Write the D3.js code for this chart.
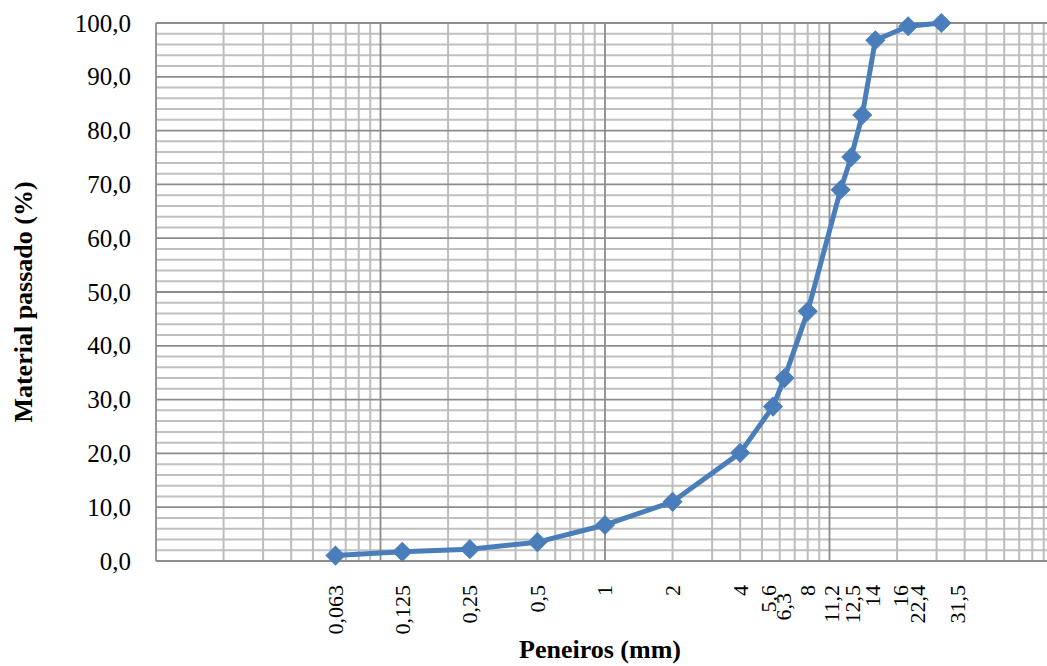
<!DOCTYPE html>
<html>
<head>
<meta charset="utf-8">
<script src="https://cdn.jsdelivr.net/npm/d3@7"></script>
<style>
	html, body { margin: 0; padding: 0; background: #fff; overflow: hidden; }
	text { font-family: "Liberation Serif", "Times New Roman", serif; fill: #000; }
</style>
</head>
<body>
<div id="chart"></div>
<script>
'use strict';

// sieve sizes (mm) and percent passing
var sieves  = [0.063, 0.125, 0.25, 0.5, 1, 2, 4, 5.6, 6.3, 8, 11.2, 12.5, 14, 16, 22.4, 31.5];
var passing = [1.0, 1.7, 2.2, 3.5, 6.7, 11.0, 20.1, 28.7, 34.0, 46.4, 69.0, 75.1, 82.9, 96.8, 99.4, 100.0];

// tick labels on the x axis
var sieveLabels = ['0,063', '0,125', '0,25', '0,5', '1', '2', '4', '5,6', '6,3', '8',
	'11,2', '12,5', '14', '16', '22,4', '31,5'];
// y axis ticks
var yTicks = [0, 10, 20, 30, 40, 50, 60, 70, 80, 90, 100];

// nudges for crowded labels (px)
var labelDx = [0, 0, 0, 0, 0, 0, 0, -4, -1, 0, -9, 1, 10, 25, 9, 16];
var labelDy = [0, 0, 0, 0, 0, 0, 0, 0, 8, 0, 0, 0, 0, 0, 0, 0];

var W = 1047, H = 666;
var plotL = 156, plotR = 1054, plotT = 23, plotB = 561;

var svg = d3.select('#chart').append('svg')
	.attr('width', W)
	.attr('height', H);

var x = d3.scaleLog().domain([0.01, 100]).range([plotL, plotR]);
var y = d3.scaleLinear().domain([0, 100]).range([plotB, plotT]);

// grid
var grid = svg.append('g');

var minorY = d3.range(0, 101, 2).filter(function(v){ return v % 10 !== 0; });
grid.selectAll('line.hy').data(minorY).enter().append('line')
	.attr('x1', plotL).attr('x2', plotR)
	.attr('y1', function(d){ return y(d); }).attr('y2', function(d){ return y(d); })
	.attr('stroke', '#c0c0c0').attr('stroke-width', 2);

var vLines = [];
[0.01, 0.1, 1, 10].forEach(function(dec){
	for (var k = 2; k <= 9; k++) vLines.push(k * dec);
});
grid.selectAll('line.vx').data(vLines).enter().append('line')
	.attr('x1', function(d){ return x(d); }).attr('x2', function(d){ return x(d); })
	.attr('y1', plotT).attr('y2', plotB)
	.attr('stroke', '#bdbdbd').attr('stroke-width', 2);

grid.selectAll('line.my').data(yTicks).enter().append('line')
	.attr('x1', plotL).attr('x2', plotR)
	.attr('y1', function(d){ return y(d); }).attr('y2', function(d){ return y(d); })
	.attr('stroke', '#8c8c8c').attr('stroke-width', 1.8);

grid.selectAll('line.mx').data([0.01, 0.1, 1, 10, 100]).enter().append('line')
	.attr('x1', function(d){ return x(d); }).attr('x2', function(d){ return x(d); })
	.attr('y1', plotT).attr('y2', plotB)
	.attr('stroke', '#8c8c8c').attr('stroke-width', 1.8);

// y tick labels
svg.selectAll('text.yt').data(yTicks).enter().append('text')
	.attr('x', 131)
	.attr('y', function(d){ return y(d); })
	.attr('dy', '0.34em')
	.attr('text-anchor', 'end')
	.style('font-size', '25px')
	.text(function(d){ return d3.format('.1f')(d).replace('.', ','); });

// x tick labels
svg.selectAll('text.xt').data(sieves).enter().append('text')
	.attr('transform', function(d, i){
		return 'translate(' + (x(d) + labelDx[i]) + ',' + (585 + labelDy[i]) + ') rotate(-90)';
	})
	.attr('dy', '0.34em')
	.attr('text-anchor', 'end')
	.style('font-size', '22px')
	.text(function(d, i){ return sieveLabels[i]; });

// axis titles
svg.append('text')
	.attr('x', 600).attr('y', 658)
	.attr('text-anchor', 'middle')
	.style('font-size', '26px').style('font-weight', 'bold')
	.text('Peneiros (mm)');

svg.append('text')
	.attr('transform', 'translate(32,302) rotate(-90)')
	.attr('text-anchor', 'middle')
	.style('font-size', '26px').style('font-weight', 'bold')
	.text('Material passado (%)');

// data
var pts = sieves.map(function(s, i){ return [s, passing[i]]; });

svg.append('path')
	.datum(pts)
	.attr('fill', 'none')
	.attr('stroke', '#4a7ebb')
	.attr('stroke-width', 5)
	.attr('stroke-linejoin', 'round')
	.attr('d', d3.line()
		.x(function(d){ return x(d[0]); })
		.y(function(d){ return y(d[1]); }));

svg.selectAll('path.mk').data(pts).enter().append('path')
	.attr('d', d3.symbol().type(d3.symbolSquare).size(175))
	.attr('transform', function(d){
		return 'translate(' + x(d[0]) + ',' + y(d[1]) + ') rotate(45)';
	})
	.attr('fill', '#4a7ebb')
	.attr('stroke', '#4a7ebb')
	.attr('stroke-width', 1);
</script>
</body>
</html>
